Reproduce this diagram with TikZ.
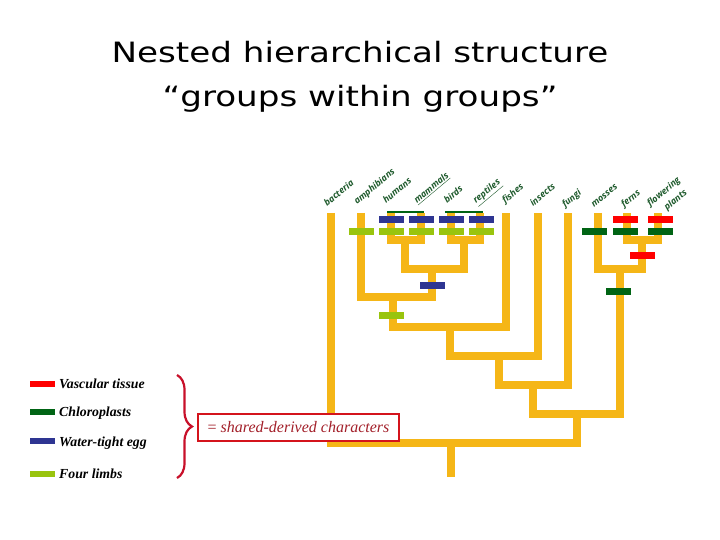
\documentclass[tikz,border=0pt]{standalone}
\usepackage{fontspec}
\setmainfont{Liberation Serif}
\newfontfamily\titlefont{DejaVu Sans}
\newfontfamily\labfont{Open Sans}
\usetikzlibrary{decorations.pathreplacing}
\definecolor{treeC}{HTML}{F5B617}
\definecolor{eggC}{HTML}{2E3592}
\definecolor{limbC}{HTML}{99C40E}
\definecolor{chloC}{HTML}{006414}
\definecolor{vascC}{HTML}{FF0000}
\definecolor{labC}{HTML}{1E5A2C}
\definecolor{braceC}{HTML}{C8102A}
\definecolor{boxC}{HTML}{D4141C}
\definecolor{boxtxt}{HTML}{A3202A}
\begin{document}
\begin{tikzpicture}[x=1pt,y=-1pt,
  br/.style={draw=treeC,line width=8pt,line join=miter},
  bar/.style={minimum width=25pt,minimum height=7pt,inner sep=0pt,outer sep=0pt},
  legbar/.style={minimum width=25pt,minimum height=5.5pt,inner sep=0pt,outer sep=0pt},
  lab/.style={rotate=40,anchor=base west,inner sep=0pt,text=labC,font=\labfont\bfseries\itshape\fontsize{9}{11}\selectfont},
  legtxt/.style={anchor=west,inner sep=0pt,font=\bfseries\itshape\fontsize{13.8}{15}\selectfont},
  ttl/.style={anchor=base,inner sep=0pt,font=\titlefont\fontsize{28}{34}\selectfont}]
\useasboundingbox[fill=white] (0,0) rectangle (720,540);

% title
\node[ttl] (t1) at (360,63) {\scalebox{1.22}[1]{Nested hierarchical structure}};
\node[ttl] (t2) at (360,107) {\scalebox{1.22}[1]{“groups within groups”}};

% tips
\coordinate (bac) at (331,213);
\coordinate (amp) at (361,213);
\coordinate (hum) at (391,213);
\coordinate (mam) at (421,213);
\coordinate (bir) at (451,213);
\coordinate (rep) at (480,213);
\coordinate (fis) at (506,213);
\coordinate (ins) at (538,213);
\coordinate (fun) at (568,213);
\coordinate (mos) at (598,213);
\coordinate (fer) at (627,213);
\coordinate (flo) at (658,213);
% junctions
\coordinate (HM) at (405,240);
\coordinate (BR) at (464,240);
\coordinate (AM) at (432,269);
\coordinate (TE) at (393,297);
\coordinate (V1) at (450,327);
\coordinate (V2) at (499,356);
\coordinate (V3) at (533,385);
\coordinate (FF) at (642,240);
\coordinate (PL) at (620,269);
\coordinate (V4) at (577,414);
\coordinate (RT) at (451,443);
\coordinate (base) at (451,477);

% tree
\draw[br] (hum) |- (HM) -| (mam);
\draw[br] (bir) |- (BR) -| (rep);
\draw[br] (HM) |- (AM) -| (BR);
\draw[br] (amp) |- (TE) -| (AM);
\draw[br] (TE) |- (V1) -| (fis);
\draw[br] (V1) |- (V2) -| (ins);
\draw[br] (V2) |- (V3) -| (fun);
\draw[br] (fer) |- (FF) -| (flo);
\draw[br] (mos) |- (PL) -| (FF);
\draw[br] (V3) |- (V4) -| (PL);
\draw[br] (bac) |- (RT) -| (V4);
\draw[br] (RT) -- (base);

% thin group lines
\coordinate (g1a) at (387,212); \coordinate (g1b) at (424,212);
\coordinate (g2a) at (445,212); \coordinate (g2b) at (483,212);
\draw[chloC,line width=1.5pt] (g1a) -- (g1b);
\draw[chloC,line width=1.5pt] (g2a) -- (g2b);

% character bars
\node[bar,fill=eggC] (e1) at (391,219.5) {};
\node[bar,fill=eggC] (e2) at (421,219.5) {};
\node[bar,fill=eggC] (e3) at (451,219.5) {};
\node[bar,fill=eggC] (e4) at (481,219.5) {};
\node[bar,fill=eggC] (e5) at (432,285) {};
\node[bar,fill=limbC] (l1) at (361,231.5) {};
\node[bar,fill=limbC] (l2) at (391,231.5) {};
\node[bar,fill=limbC] (l3) at (421,231.5) {};
\node[bar,fill=limbC] (l4) at (451,231.5) {};
\node[bar,fill=limbC] (l5) at (481,231.5) {};
\node[bar,fill=limbC] (l6) at (391,315) {};
\node[bar,fill=vascC] (v1) at (625,219.5) {};
\node[bar,fill=vascC] (v2) at (660,219.5) {};
\node[bar,fill=vascC] (v3) at (642,255) {};
\node[bar,fill=chloC] (c1) at (594,231.5) {};
\node[bar,fill=chloC] (c2) at (625,231.5) {};
\node[bar,fill=chloC] (c3) at (660,231.5) {};
\node[bar,fill=chloC] (c4) at (618,291) {};

% taxon labels
\node[lab] (Lbac) at (327,207) {bacteria};
\node[lab] (Lamp) at (357,205) {amphibians};
\node[lab] (Lhum) at (386,204) {humans};
\node[lab] (Lmam) at (417,204) {\underline{mammals}};
\node[lab] (Lbir) at (447,204) {birds};
\node[lab] (Lrep) at (476,204) {\underline{reptiles}};
\node[lab] (Lfis) at (505,204) {fishes};
\node[lab] (Lins) at (533,207) {insects};
\node[lab] (Lfun) at (565,208) {fungi};
\node[lab] (Lmos) at (594,208) {mosses};
\node[lab] (Lfer) at (624,208) {ferns};
\node[lab] (Lflo) at (650,207) {flowering};
\node[lab] (Lpla) at (667,211) {plants};

% legend
\node[legbar,fill=vascC] (kv) at (42.5,384) {};
\node[legbar,fill=chloC] (kc) at (42.5,412) {};
\node[legbar,fill=eggC] (ke) at (42.5,441) {};
\node[legbar,fill=limbC] (kl) at (42.5,474) {};
\node[legtxt] (kvt) at (59,384) {Vascular tissue};
\node[legtxt] (kct) at (59,413) {Chloroplasts};
\node[legtxt] (ket) at (59,443) {Water-tight egg};
\node[legtxt] (klt) at (59,474) {Four limbs};

% brace and box
\coordinate (brT) at (177,375);
\coordinate (brB) at (177,478);
\draw[braceC,line width=2.2pt,decorate,decoration={brace,amplitude=15pt}] (brT) -- (brB);
\node[draw=boxC,fill=white,line width=2.5pt,minimum width=201pt,minimum height=27pt,inner sep=0pt,
  text=boxtxt,font=\fontsize{16}{18}\selectfont] (box) at (298.5,427.5) {= \textit{shared-derived characters}};
\end{tikzpicture}
\end{document}
